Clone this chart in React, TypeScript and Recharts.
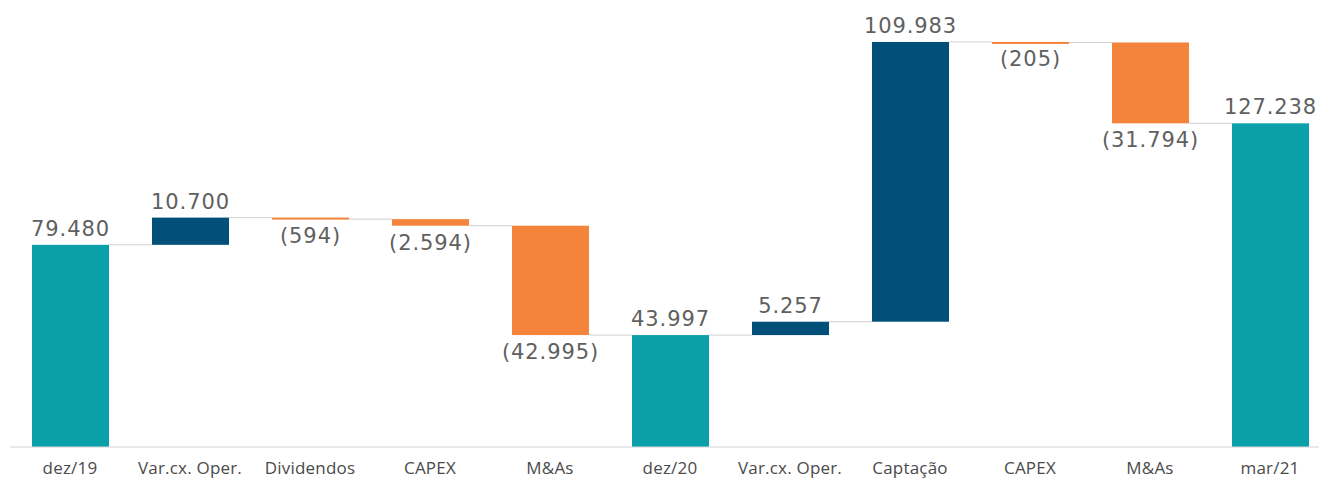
import { BarChart, Bar, XAxis, YAxis, LabelList } from "recharts";

const categories = [
  "dez/19",
  "Var.cx. Oper.",
  "Dividendos",
  "CAPEX",
  "M&As",
  "dez/20",
  "Var.cx. Oper.",
  "Captação",
  "CAPEX",
  "M&As",
  "mar/21",
];
const values = [79480, 10700, -594, -2594, -42995, 43997, 5257, 109983, -205, -31794, 127238];
const totals = [true, false, false, false, false, true, false, false, false, false, true];

const TEAL = "#0a9fa9";
const NAVY = "#00507a";
const ORANGE = "#f4833b";

const W = 1322;
const H = 476;
const M = { top: 32, right: 0, left: 2, bottom: 7 };
const BAR = 77;
const BAND = (W - M.left - M.right) / categories.length;

const fmt = (n: number) => {
  const s = String(Math.abs(n)).replace(/\B(?=(\d{3})+(?!\d))/g, ".");
  return n < 0 ? `(${s})` : s;
};

let running = 0;
const rows = categories.map((name, i) => {
  const v = values[i];
  let low: number, high: number;
  if (totals[i]) {
    low = 0;
    high = v;
    running = v;
  } else {
    low = Math.min(running, running + v);
    high = Math.max(running, running + v);
    running += v;
  }
  const color = totals[i] ? TEAL : v >= 0 ? NAVY : ORANGE;
  return { name, range: [low, high], v, neg: v < 0, color };
});

const StepShape = (props: any) => {
  const { x, y, width, height, index } = props;
  const row = rows[index];
  const top = Math.min(y, y + height);
  const h = Math.max(Math.abs(height), 2);
  const level = row.neg ? top + Math.abs(height) : top;
  const last = index === rows.length - 1;
  return (
    <g>
      <rect x={x} y={top} width={width} height={h} fill={row.color} />
      {!last && (
        <line
          x1={x + width}
          x2={x + width + (BAND - width)}
          y1={level}
          y2={level}
          stroke="#cfcfcf"
          strokeWidth={1}
        />
      )}
    </g>
  );
};

const ValueLabel = (props: any) => {
  const { x, y, width, height, index } = props;
  const row = rows[index];
  const top = Math.min(y, y + height);
  const bottom = top + Math.abs(height);
  const ty = row.neg ? bottom + 24 : top - 9;
  return (
    <text
      x={x + width / 2}
      y={ty}
      textAnchor="middle"
      fill="#606060"
      fontSize={21}
      letterSpacing={0.9}
      fontFamily="'DejaVu Sans', sans-serif"
    >
      {fmt(row.v)}
    </text>
  );
};

export default function App() {
  return (
    <div style={{ width: 1319, height: H, overflow: "hidden", background: "#fff" }}>
      <BarChart width={W} height={H} data={rows} margin={M} barCategoryGap={0}>
        <XAxis
          dataKey="name"
          tickLine={false}
          axisLine={{ stroke: "#d4d4d4" }}
          tick={{ fill: "#4a4a4a", fontSize: 17, letterSpacing: 0.2, fontFamily: "'Open Sans', sans-serif" }}
          tickMargin={9}
          height={30}
          interval={0}
        />
        <YAxis hide domain={[0, 160000]} />
        <Bar dataKey="range" barSize={BAR} shape={StepShape} isAnimationActive={false}>
          <LabelList dataKey="range" content={ValueLabel} />
        </Bar>
      </BarChart>
    </div>
  );
}
